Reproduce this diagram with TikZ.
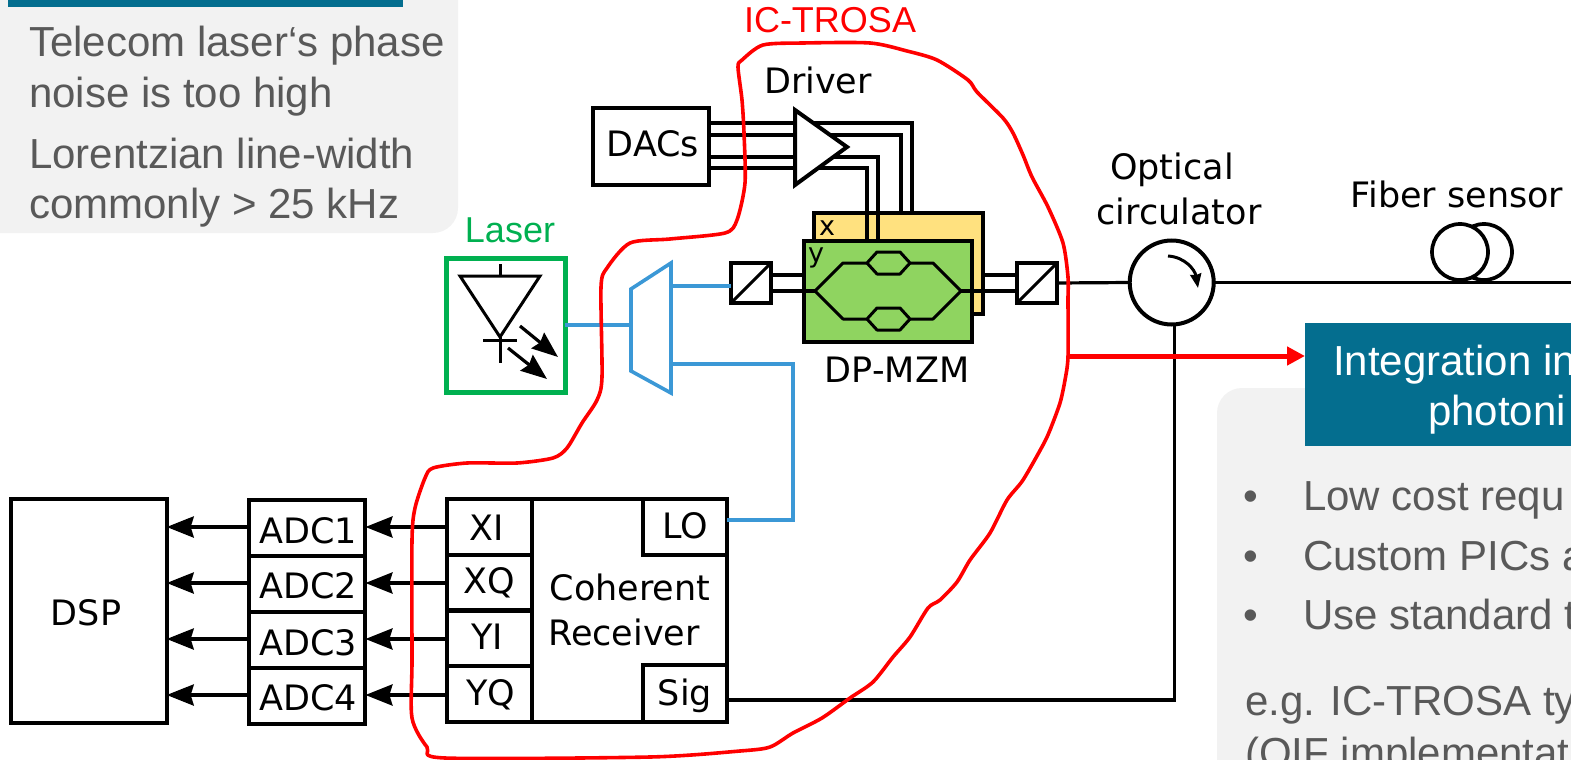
\documentclass[tikz,border=0pt]{standalone}
\usepackage{fontspec}
\setmainfont{Liberation Sans}
\newfontfamily\djv{DejaVu Sans}
\usetikzlibrary{arrows.meta}
\definecolor{pgrey}{HTML}{F2F2F2}
\definecolor{tgrey}{HTML}{595959}
\definecolor{pteal}{HTML}{046E8F}
\definecolor{lgreen}{HTML}{00B050}
\definecolor{lblue}{HTML}{3B98D6}
\definecolor{myellow}{HTML}{FFE17F}
\definecolor{mgreen}{HTML}{8FD460}
\tikzset{
  x=1pt,y=-1pt,
  box/.style={draw=black,line width=4pt,fill=white,inner sep=0pt,outer sep=0pt,rectangle},
  lab/.style={font=\djv\fontsize{35}{42}\selectfont,text=black,anchor=base,inner sep=0pt},
  small lab/.style={font=\djv\fontsize{27}{32}\selectfont,text=black,anchor=base,inner sep=0pt},
  grey text/.style={font=\fontsize{42}{50}\selectfont,text=tgrey,anchor=base west,inner sep=0pt},
  white text/.style={font=\fontsize{42}{50}\selectfont,text=white,anchor=base west,inner sep=0pt},
  wire/.style={draw=black,line width=3.2pt},
  fibre/.style={draw=lblue,line width=3.6pt},
  inner wire/.style={draw=black,line width=3pt,line join=round},
  bigarrow/.style={wire,line width=3.6pt,-{Stealth[length=27pt,width=21pt,inset=3pt]}},
  smallarrow/.style={wire,-{Stealth[length=26pt,width=20pt,inset=3pt]}},
}
\begin{document}
\begin{tikzpicture}
\useasboundingbox (0,0) rectangle (1571,760);
\clip (0,0) rectangle (1571,760);

% grey panels
\fill[pgrey,rounded corners=25pt] (-40,-40) rectangle (458,233);
\fill[pgrey,rounded corners=25pt] (1217,388) rectangle (1640,820);
\node[fill=pteal,inner sep=0pt,minimum width=395pt,minimum height=7pt] (topbar) at (205.5,3.5) {};
\node[grey text] (g1) at (29,57) {Telecom laser‘s phase};
\node[grey text] (g2) at (29,107) {noise is too high};
\node[grey text] (g3) at (29,168) {Lorentzian line-width};
\node[grey text] (g4) at (29,218) {commonly > 25 kHz};

\node[fill=pteal,inner sep=0pt,outer sep=0pt,minimum width=400pt,minimum height=123pt] (teal) at (1505,384.5) {};
\node[white text] (w1) at (1333,375) {Integration in};
\node[white text] (w2) at (1428,425) {photoni};
\node[grey text] (b1) at (1243,510) {•};
\node[grey text] (b2) at (1243,570) {•};
\node[grey text] (b3) at (1243,629) {•};
\node[grey text] (l1) at (1303,510) {Low cost requ};
\node[grey text] (l2) at (1303,570) {Custom PICs a};
\node[grey text] (l3) at (1303,629) {Use standard t};
\node[grey text] (l4) at (1245,715) {e.g. IC-TROSA ty};
\node[grey text] (l5) at (1245,767) {(OIF implementat};

% blocks
\node[box,minimum width=156pt,minimum height=224pt] (dsp) at (88.7,611) {};
\node[box,minimum width=116.4pt,minimum height=56pt] (adc1) at (307.2,528) {};
\node[box,minimum width=116.4pt,minimum height=56pt] (adc2) at (307.2,584) {};
\node[box,minimum width=116.4pt,minimum height=56pt] (adc3) at (307.2,640) {};
\node[box,minimum width=116.4pt,minimum height=56pt] (adc4) at (307.2,696) {};
\node[box,minimum width=279.5pt,minimum height=223pt] (rx) at (586.75,610.5) {};
\node[box,minimum width=85pt,minimum height=55.75pt] (xi) at (489.5,526.9) {};
\node[box,minimum width=85pt,minimum height=55.75pt] (xq) at (489.5,582.6) {};
\node[box,minimum width=85pt,minimum height=55.75pt] (yi) at (489.5,638.4) {};
\node[box,minimum width=85pt,minimum height=55.75pt] (yq) at (489.5,694.1) {};
\node[box,minimum width=83.5pt,minimum height=56pt] (lo) at (684.75,527) {};
\node[box,minimum width=83.5pt,minimum height=57pt] (sig) at (684.75,693.5) {};
\node[box,minimum width=116pt,minimum height=77pt] (dacs) at (651,146) {};
\node[box,draw=lgreen,line width=5pt,minimum width=119pt,minimum height=134pt] (laser) at (505.5,325) {};
\node[box,line width=3.8pt,minimum width=40pt,minimum height=40pt] (pbsA) at (751,283) {};
\node[box,line width=3.8pt,minimum width=40pt,minimum height=40pt] (pbsB) at (1037,283) {};
\node[box,fill=myellow,minimum width=169pt,minimum height=101pt] (xbox) at (898.5,263.5) {};
\node[box,fill=mgreen,minimum width=168pt,minimum height=101pt] (ybox) at (888,291.5) {};
\node[box,circle,minimum size=84pt] (circ) at (1171.7,282.5) {};
\node[box,circle,line width=3.7pt,minimum size=56pt] (coilB) at (1484,252) {};
\node[box,circle,line width=3.7pt,minimum size=56pt] (coilA) at (1460,252) {};

% labels
\node[lab] (tdsp) at (86,625) {DSP};
\node[lab] (ta1) at (308,543) {ADC1};
\node[lab] (ta2) at (308,598) {ADC2};
\node[lab] (ta3) at (308,655) {ADC3};
\node[lab] (ta4) at (308,710) {ADC4};
\node[lab] (txi) at (487,540) {XI};
\node[lab] (txq) at (489,593) {XQ};
\node[lab] (tyi) at (487,649) {YI};
\node[lab] (tyq) at (491,705) {YQ};
\node[lab] (tlo) at (685,538) {LO};
\node[lab] (tsig) at (685,705) {Sig};
\node[lab] (tcoh) at (630,600) {Coherent};
\node[lab] (trec) at (624,645) {Receiver};
\node[lab] (tdac) at (653,156) {DACs};
\node[lab] (tdrv) at (818,93) {Driver};
\node[lab] (tmzm) at (897,382) {DP-MZM};
\node[lab] (topt) at (1172,179) {Optical};
\node[lab] (tcir) at (1179,224) {circulator};
\node[lab] (tfib) at (1457,207) {Fiber sensor};
\node[small lab] (tx) at (827,235) {x};
\node[small lab] (ty) at (816,262) {y};
\node[font=\fontsize{36}{42}\selectfont,text=lgreen,anchor=base,inner sep=0pt] (tlas) at (510,242) {Laser};
\node[font=\fontsize{36}{42}\selectfont,text=red,anchor=base,inner sep=0pt] (ttro) at (830,33) {IC-TROSA};

% coupling to driver
\coordinate (drvW) at (795,147);
\coordinate (drvE) at (847,147);
\foreach \yy in {123,135,157,168}{\draw[wire] (dacs.east |- 0,\yy) -- (drvW |- 0,\yy);}
\draw[wire] (drvW |- 0,123) -| (xbox.north -| 912,0);
\draw[wire] (drvW |- 0,135) -| (xbox.north -| 901,0);
\draw[wire] (drvW |- 0,157) -| (ybox.north -| 878,0);
\draw[wire] (drvW |- 0,168) -| (ybox.north -| 867,0);
\draw[draw=black,line width=4pt,fill=white,miter limit=10] (drvW |- 0,110) -- (drvE) -- (drvW |- 0,185) -- cycle;
\path (ybox.north west) ; % keep yellow/green stacking
\draw[draw=black,line width=4pt,fill=none] (ybox.north west) rectangle (ybox.south east);

% Mach-Zehnder
\draw[inner wire] (815,291) -- (843,263) -- (867,263) -- (877,252) -- (900,252) -- (910,263) -- (933,263) -- (961,291) -- (933,319) -- (910,319) -- (900,308) -- (877,308) -- (867,319) -- (843,319) -- cycle;
\draw[inner wire] (867,263) -- (877,274) -- (900,274) -- (910,263);
\draw[inner wire] (867,319) -- (877,330) -- (900,330) -- (910,319);
\draw[wire] (pbsA.east |- 0,275) -- (ybox.west |- 0,275);
\draw[wire] (pbsA.east |- 0,291) -- (815,291);
\draw[wire] (961,291) -- (pbsB.west |- 0,291);
\draw[wire] (xbox.east |- 0,275) -- (pbsB.west |- 0,275);
\draw[inner wire] (pbsA.south west) -- (pbsA.north east);
\draw[inner wire] (pbsB.south west) -- (pbsB.north east);

% fibre path
\draw[wire] (pbsB.east) -- (circ.west);
\draw[wire] (circ.east) -- (1575,282.5);
\draw[wire] (sig.east |- 0,700) -| (circ.south -| 1174.7,0);
\draw[wire,line width=3pt,-{Stealth[length=14pt,width=11pt,inset=1pt]}] (1168,256) .. controls (1185,257) and (1195,270) .. (1198,288);

% blue splitter
\coordinate (mux1) at (631,289);
\coordinate (mux2) at (671,263);
\coordinate (mux3) at (671,393);
\coordinate (mux4) at (631,371);
\draw[fibre,line join=miter] (mux1) -- (mux2) -- (mux3) -- (mux4) -- cycle;
\draw[fibre] (laser.east) -- (mux1 |- laser.east);
\draw[fibre] (mux2 |- 0,286) -- (pbsA.west |- 0,286);
\draw[fibre] (mux2 |- 0,364) -| (793,520) -- (lo.east |- 0,520);

% laser diode
\draw[inner wire,line join=miter] (460,276) -- (540,276) -- (500,337) -- cycle;
\draw[inner wire] (500,264) -- (500,276);
\draw[inner wire] (483,340) -- (517,340);
\draw[inner wire] (500,337) -- (500,363);
\draw[smallarrow] (520,326) -- (558,357);
\draw[smallarrow] (508,348) -- (547,379);

% detector outputs
\foreach \yy in {527,583,639,695}{
  \draw[bigarrow] (rx.west |- 0,\yy) -- (adc1.east |- 0,\yy);
  \draw[bigarrow] (adc1.west |- 0,\yy) -- (dsp.east |- 0,\yy);
}

% IC-TROSA outline
\coordinate (blobE) at (1067,356);
\draw[red,line width=3.6pt,line join=round] plot[smooth cycle,tension=0.45] coordinates {
(738,67) (742,60) (763,45) (803,43) (870,43) (907,51) (937,60) (968,80) (977,92) (1003,118) (1013,133) (1023,155) (1032,177) (1048,207) (1063,243) (1068,277) (1068,300) (1068,357) (1065,380) (1060,403) (1050,430) (1043,445) (1023,480) (1007,500) (990,533) (970,560) (957,582) (940,600) (928,608) (910,637) (893,657) (873,682) (850,698) (822,718) (793,733) (770,747) (740,751) (650,757) (445,758) (427,747) (412,718) (412,660) (412,540) (415,508) (425,478) (433,468) (467,463) (517,463) (553,458) (567,448) (582,423) (597,400) (602,377) (601,287) (607,268) (630,243) (670,239) (725,233) (737,220) (745,183) (744,133) (742,100)};
\draw[draw=red,line width=5pt,-{Triangle[length=18pt,width=18pt]}] (blobE) -- (teal.west |- blobE);
\end{tikzpicture}
\end{document}
